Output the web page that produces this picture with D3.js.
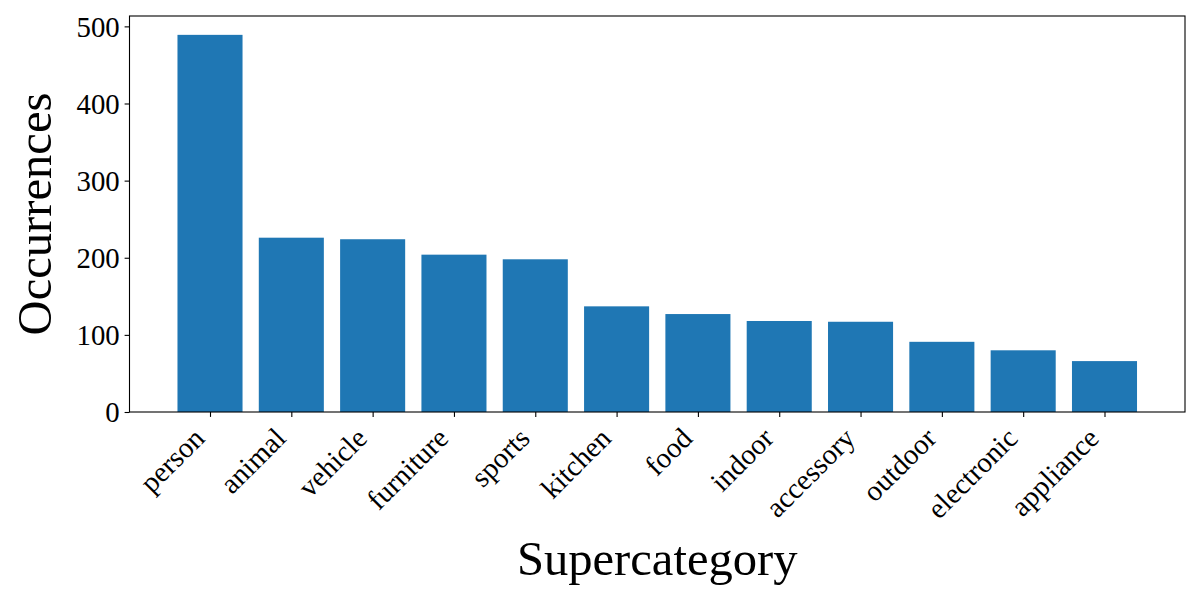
<!DOCTYPE html>
<html>
<head>
<meta charset="utf-8">
<script src="https://cdn.jsdelivr.net/npm/d3@7"></script>
<style>
	body { margin: 0; background: #fff; }
	svg text { font-family: "Liberation Serif", "Times New Roman", serif; fill: #000; }
</style>
</head>
<body>
<svg id="chart" width="1200" height="600"></svg>
<script>
	/* Data */
	const categories = ["person", "animal", "vehicle", "furniture", "sports", "kitchen", "food", "indoor", "accessory", "outdoor", "electronic", "appliance"];
	const occurrences = [489, 226, 224, 204, 198, 137, 127, 118, 117, 91, 80, 66];
	const yTicks = [0, 100, 200, 300, 400, 500];

	/* Layout */
	const margin = { top: 16, right: 15, bottom: 188, left: 129.5 };
	const width = 1200 - margin.left - margin.right;
	const height = 600 - margin.top - margin.bottom;
	const tickFont = 28.8;
	const labelFont = 48.6;
	const barColor = "#1f77b4";

	let svg = d3.select("#chart");
	let g = svg.append("g").attr("transform", `translate(${margin.left},${margin.top})`);

	// matplotlib-like linear x scale over bar indexes, with 5% margins
	let barWidth = 0.8;
	let lo = -barWidth / 2, hi = categories.length - 1 + barWidth / 2;
	let pad = (hi - lo) * 0.05;
	let xScale = d3.scaleLinear().domain([lo - pad, hi + pad]).range([0, width]);
	let yScale = d3.scaleLinear().domain([0, d3.max(occurrences) * 1.05]).range([height, 0]);

	// Bars
	g.selectAll(".bar")
		.data(occurrences)
		.enter()
		.append("rect")
		.classed("bar", true)
		.attr("x", function(d, i) { return xScale(i - barWidth / 2); })
		.attr("width", function(d, i) { return xScale(i + barWidth / 2) - xScale(i - barWidth / 2); })
		.attr("y", function(d) { return yScale(d); })
		.attr("height", function(d) { return height - yScale(d); })
		.attr("fill", barColor);

	// Y axis
	let yAxis = g.append("g")
		.call(d3.axisLeft(yScale).tickValues(yTicks).tickSize(4.9).tickPadding(4.9));
	yAxis.select(".domain").remove();
	yAxis.selectAll("text").style("font-size", tickFont + "px").attr("dy", "0.34em");
	yAxis.selectAll("line").attr("stroke-width", 1.1);

	// X axis
	let xAxis = g.append("g")
		.attr("transform", `translate(0,${height})`)
		.call(d3.axisBottom(xScale).tickValues(d3.range(categories.length)).tickSize(4.9).tickFormat(function(i) { return categories[i]; }));
	xAxis.select(".domain").remove();
	xAxis.selectAll("line").attr("stroke-width", 1.1);
	// rotated labels, right edge of bbox at tick, top of bbox below tick
	let asc = 0.891 * tickFont, desc = 0.216 * tickFont, s = Math.SQRT1_2;
	xAxis.selectAll("text")
		.style("font-size", tickFont + "px")
		.attr("text-anchor", "end")
		.attr("dy", null)
		.attr("y", null)
		.attr("transform", `translate(${-s * desc},${4.9 + 4.9 + s * asc}) rotate(-45)`);

	// Frame
	g.append("rect")
		.attr("width", width)
		.attr("height", height)
		.attr("fill", "none")
		.attr("stroke", "#000")
		.attr("stroke-width", 1.1);

	// Axis titles
	svg.append("text")
		.attr("x", margin.left + width / 2)
		.attr("y", 575)
		.attr("text-anchor", "middle")
		.style("font-size", labelFont + "px")
		.text("Supercategory");

	svg.append("text")
		.attr("transform", `translate(51,${margin.top + height / 2}) rotate(-90)`)
		.attr("text-anchor", "middle")
		.style("font-size", labelFont + "px")
		.text("Occurrences");
</script>
</body>
</html>
